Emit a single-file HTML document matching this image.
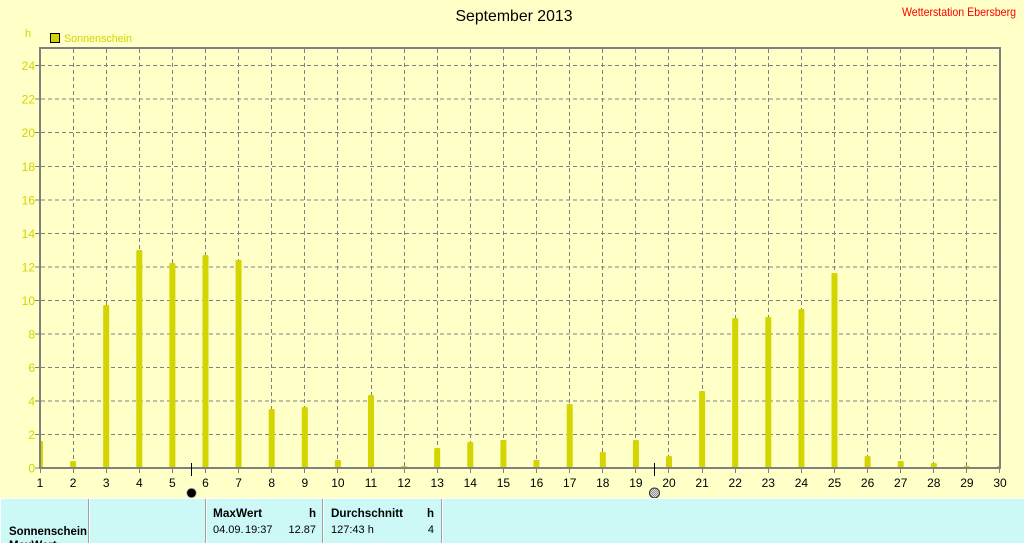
<!DOCTYPE html>
<html>
<head>
<meta charset="utf-8">
<style>
html,body{margin:0;padding:0;background:#ffffc8;}
svg{display:block;}
text{font-family:"Liberation Sans",Arial,sans-serif;}
</style>
</head>
<body>
<svg width="1024" height="543" viewBox="0 0 1024 543" xmlns="http://www.w3.org/2000/svg">
<defs>
<clipPath id="plot"><rect x="41" y="49" width="958" height="420"/></clipPath>
<pattern id="hatch" width="2" height="2" patternUnits="userSpaceOnUse">
<rect width="2" height="2" fill="#e0e0e0"/><rect width="1" height="1" fill="#909090"/><rect x="1" y="1" width="1" height="1" fill="#909090"/>
</pattern>
</defs>
<rect x="0" y="0" width="1024" height="543" fill="#ffffc8"/>

<!-- title -->
<text x="514" y="21" font-size="16" text-anchor="middle" fill="#000" textLength="117" lengthAdjust="spacingAndGlyphs">September 2013</text>
<text x="1016" y="16" font-size="12" text-anchor="end" fill="#ff0000" textLength="114" lengthAdjust="spacingAndGlyphs">Wetterstation Ebersberg</text>

<!-- legend -->
<text x="25" y="37" font-size="11" fill="#d4d400">h</text>
<rect x="50.5" y="33.5" width="9" height="9" fill="#d4d400" stroke="#000" stroke-width="1"/>
<text x="64" y="42" font-size="11" fill="#d4d400" textLength="68" lengthAdjust="spacingAndGlyphs">Sonnenschein</text>

<!-- grid -->
<g stroke="#808080" stroke-width="1" stroke-dasharray="4,3" fill="none">
<line x1="41" x2="999" y1="434.5" y2="434.5"/>
<line x1="41" x2="999" y1="401" y2="401"/>
<line x1="41" x2="999" y1="367.5" y2="367.5"/>
<line x1="41" x2="999" y1="334" y2="334"/>
<line x1="41" x2="999" y1="300.5" y2="300.5"/>
<line x1="41" x2="999" y1="267" y2="267"/>
<line x1="41" x2="999" y1="233.5" y2="233.5"/>
<line x1="41" x2="999" y1="200" y2="200"/>
<line x1="41" x2="999" y1="166.5" y2="166.5"/>
<line x1="41" x2="999" y1="132.5" y2="132.5"/>
<line x1="41" x2="999" y1="99" y2="99"/>
<line x1="41" x2="999" y1="65.5" y2="65.5"/>
<line y1="49" y2="467" x1="73.5" x2="73.5"/>
<line y1="49" y2="467" x1="106.5" x2="106.5"/>
<line y1="49" y2="467" x1="139.5" x2="139.5"/>
<line y1="49" y2="467" x1="172.5" x2="172.5"/>
<line y1="49" y2="467" x1="205.5" x2="205.5"/>
<line y1="49" y2="467" x1="238.5" x2="238.5"/>
<line y1="49" y2="467" x1="271.5" x2="271.5"/>
<line y1="49" y2="467" x1="304.5" x2="304.5"/>
<line y1="49" y2="467" x1="337.5" x2="337.5"/>
<line y1="49" y2="467" x1="371.5" x2="371.5"/>
<line y1="49" y2="467" x1="404.5" x2="404.5"/>
<line y1="49" y2="467" x1="437.5" x2="437.5"/>
<line y1="49" y2="467" x1="470.5" x2="470.5"/>
<line y1="49" y2="467" x1="503.5" x2="503.5"/>
<line y1="49" y2="467" x1="536.5" x2="536.5"/>
<line y1="49" y2="467" x1="569.5" x2="569.5"/>
<line y1="49" y2="467" x1="602.5" x2="602.5"/>
<line y1="49" y2="467" x1="635.5" x2="635.5"/>
<line y1="49" y2="467" x1="668.5" x2="668.5"/>
<line y1="49" y2="467" x1="702.5" x2="702.5"/>
<line y1="49" y2="467" x1="735.5" x2="735.5"/>
<line y1="49" y2="467" x1="768.5" x2="768.5"/>
<line y1="49" y2="467" x1="801.5" x2="801.5"/>
<line y1="49" y2="467" x1="834.5" x2="834.5"/>
<line y1="49" y2="467" x1="867.5" x2="867.5"/>
<line y1="49" y2="467" x1="900.5" x2="900.5"/>
<line y1="49" y2="467" x1="933.5" x2="933.5"/>
<line y1="49" y2="467" x1="966.5" x2="966.5"/>
</g>

<!-- bars -->
<g fill="#d4d400" clip-path="url(#plot)">
<rect x="37" y="441" width="6" height="29" rx="1.2"/>
<rect x="70.1" y="461" width="6" height="9" rx="1.2"/>
<rect x="103.2" y="305" width="6" height="165" rx="1.2"/>
<rect x="136.3" y="250" width="6" height="220" rx="1.2"/>
<rect x="169.4" y="263" width="6" height="207" rx="1.2"/>
<rect x="202.5" y="255" width="6" height="215" rx="1.2"/>
<rect x="235.6" y="260" width="6" height="210" rx="1.2"/>
<rect x="268.7" y="409" width="6" height="61" rx="1.2"/>
<rect x="301.8" y="407" width="6" height="63" rx="1.2"/>
<rect x="334.9" y="460" width="6" height="10" rx="1.2"/>
<rect x="368" y="395" width="6" height="75" rx="1.2"/>
<rect x="401.1" y="466" width="6" height="4" rx="1"/>
<rect x="434.2" y="448" width="6" height="22" rx="1.2"/>
<rect x="467.3" y="442" width="6" height="28" rx="1.2"/>
<rect x="500.4" y="440" width="6" height="30" rx="1.2"/>
<rect x="533.5" y="460" width="6" height="10" rx="1.2"/>
<rect x="566.7" y="404" width="6" height="66" rx="1.2"/>
<rect x="599.8" y="452" width="6" height="18" rx="1.2"/>
<rect x="632.9" y="440" width="6" height="30" rx="1.2"/>
<rect x="666" y="456" width="6" height="14" rx="1.2"/>
<rect x="699.1" y="391" width="6" height="79" rx="1.2"/>
<rect x="732.2" y="318" width="6" height="152" rx="1.2"/>
<rect x="765.3" y="317" width="6" height="153" rx="1.2"/>
<rect x="798.4" y="309" width="6" height="161" rx="1.2"/>
<rect x="831.5" y="273" width="6" height="197" rx="1.2"/>
<rect x="864.6" y="456" width="6" height="14" rx="1.2"/>
<rect x="897.7" y="461" width="6" height="9" rx="1.2"/>
<rect x="930.8" y="463" width="6" height="7" rx="1.2"/>
<rect x="963.9" y="466" width="6" height="4" rx="1"/>
<rect x="997" y="466" width="6" height="4" rx="1"/>
</g>

<!-- frame -->
<rect x="40" y="48" width="960" height="420" fill="none" stroke="#808080" stroke-width="2"/>

<!-- y ticks -->
<g stroke="#808080" stroke-width="1">
<line x1="35" x2="40" y1="468" y2="468"/>
<line x1="35" x2="40" y1="434.5" y2="434.5"/>
<line x1="35" x2="40" y1="401" y2="401"/>
<line x1="35" x2="40" y1="367.5" y2="367.5"/>
<line x1="35" x2="40" y1="334" y2="334"/>
<line x1="35" x2="40" y1="300.5" y2="300.5"/>
<line x1="35" x2="40" y1="267" y2="267"/>
<line x1="35" x2="40" y1="233.5" y2="233.5"/>
<line x1="35" x2="40" y1="200" y2="200"/>
<line x1="35" x2="40" y1="166.5" y2="166.5"/>
<line x1="35" x2="40" y1="132.5" y2="132.5"/>
<line x1="35" x2="40" y1="99" y2="99"/>
<line x1="35" x2="40" y1="65.5" y2="65.5"/>
</g>
<g font-size="12" fill="#d4d400" text-anchor="end">
<text x="35" y="472.5">0</text>
<text x="35" y="439">2</text>
<text x="35" y="405.5">4</text>
<text x="35" y="372">6</text>
<text x="35" y="338.5">8</text>
<text x="35" y="305">10</text>
<text x="35" y="271.5">12</text>
<text x="35" y="238">14</text>
<text x="35" y="204.5">16</text>
<text x="35" y="171">18</text>
<text x="35" y="137">20</text>
<text x="35" y="103.5">22</text>
<text x="35" y="70">24</text>
</g>

<!-- x ticks -->
<g stroke="#808080" stroke-width="1">
<line x1="40.5" x2="40.5" y1="469" y2="473"/>
<line x1="73.5" x2="73.5" y1="469" y2="473"/>
<line x1="106.5" x2="106.5" y1="469" y2="473"/>
<line x1="139.5" x2="139.5" y1="469" y2="473"/>
<line x1="172.5" x2="172.5" y1="469" y2="473"/>
<line x1="205.5" x2="205.5" y1="469" y2="473"/>
<line x1="238.5" x2="238.5" y1="469" y2="473"/>
<line x1="271.5" x2="271.5" y1="469" y2="473"/>
<line x1="304.5" x2="304.5" y1="469" y2="473"/>
<line x1="337.5" x2="337.5" y1="469" y2="473"/>
<line x1="371.5" x2="371.5" y1="469" y2="473"/>
<line x1="404.5" x2="404.5" y1="469" y2="473"/>
<line x1="437.5" x2="437.5" y1="469" y2="473"/>
<line x1="470.5" x2="470.5" y1="469" y2="473"/>
<line x1="503.5" x2="503.5" y1="469" y2="473"/>
<line x1="536.5" x2="536.5" y1="469" y2="473"/>
<line x1="569.5" x2="569.5" y1="469" y2="473"/>
<line x1="602.5" x2="602.5" y1="469" y2="473"/>
<line x1="635.5" x2="635.5" y1="469" y2="473"/>
<line x1="668.5" x2="668.5" y1="469" y2="473"/>
<line x1="702.5" x2="702.5" y1="469" y2="473"/>
<line x1="735.5" x2="735.5" y1="469" y2="473"/>
<line x1="768.5" x2="768.5" y1="469" y2="473"/>
<line x1="801.5" x2="801.5" y1="469" y2="473"/>
<line x1="834.5" x2="834.5" y1="469" y2="473"/>
<line x1="867.5" x2="867.5" y1="469" y2="473"/>
<line x1="900.5" x2="900.5" y1="469" y2="473"/>
<line x1="933.5" x2="933.5" y1="469" y2="473"/>
<line x1="966.5" x2="966.5" y1="469" y2="473"/>
<line x1="999.5" x2="999.5" y1="469" y2="473"/>
</g>
<g font-size="12" fill="#000" text-anchor="middle">
<text x="40" y="487">1</text>
<text x="73.1" y="487">2</text>
<text x="106.2" y="487">3</text>
<text x="139.3" y="487">4</text>
<text x="172.4" y="487">5</text>
<text x="205.5" y="487">6</text>
<text x="238.6" y="487">7</text>
<text x="271.7" y="487">8</text>
<text x="304.8" y="487">9</text>
<text x="337.9" y="487">10</text>
<text x="371" y="487">11</text>
<text x="404.1" y="487">12</text>
<text x="437.2" y="487">13</text>
<text x="470.3" y="487">14</text>
<text x="503.4" y="487">15</text>
<text x="536.6" y="487">16</text>
<text x="569.7" y="487">17</text>
<text x="602.8" y="487">18</text>
<text x="635.9" y="487">19</text>
<text x="669" y="487">20</text>
<text x="702.1" y="487">21</text>
<text x="735.2" y="487">22</text>
<text x="768.3" y="487">23</text>
<text x="801.4" y="487">24</text>
<text x="834.5" y="487">25</text>
<text x="867.6" y="487">26</text>
<text x="900.7" y="487">27</text>
<text x="933.8" y="487">28</text>
<text x="966.9" y="487">29</text>
<text x="1000" y="487">30</text>
</g>

<!-- moon phases -->
<line x1="191.5" x2="191.5" y1="463" y2="476" stroke="#000" stroke-width="1"/>
<circle cx="191.5" cy="493" r="4.8" fill="#000" stroke="#b0b0b0" stroke-width="0.8"/>
<line x1="654.5" x2="654.5" y1="463" y2="476" stroke="#000" stroke-width="1"/>
<circle cx="654.5" cy="493" r="5" fill="url(#hatch)" stroke="#303030" stroke-width="1"/>

<!-- table -->
<rect x="0" y="498" width="1024" height="45" fill="#ccf9f6"/>
<rect x="0" y="498" width="1024" height="1" fill="#ffffff"/>
<rect x="0" y="498" width="1" height="45" fill="#ffffff"/>
<g fill="#a0a0a0">
<rect x="88" y="499" width="1" height="44"/>
<rect x="205" y="499" width="1" height="44"/>
<rect x="322" y="499" width="1" height="44"/>
<rect x="441" y="499" width="1" height="44"/>
</g>
<g fill="#ffffff">
<rect x="89" y="499" width="1" height="44"/>
<rect x="206" y="499" width="1" height="44"/>
<rect x="323" y="499" width="1" height="44"/>
<rect x="442" y="499" width="1" height="44"/>
</g>
<g font-size="11" fill="#000">
<text x="9" y="535" font-weight="bold" font-size="11.5" textLength="78" lengthAdjust="spacingAndGlyphs">Sonnenschein</text>
<text x="9" y="549" font-weight="bold" font-size="11.5">MaxWert</text>
<text x="213" y="517" font-weight="bold" font-size="11.5" textLength="49" lengthAdjust="spacingAndGlyphs">MaxWert</text>
<text x="316" y="517" font-weight="bold" font-size="11.5" text-anchor="end">h</text>
<text x="213" y="533">04.09.</text>
<text x="245" y="533">19:37</text>
<text x="316" y="533" text-anchor="end">12.87</text>
<text x="331" y="517" font-weight="bold" font-size="11.5" textLength="72" lengthAdjust="spacingAndGlyphs">Durchschnitt</text>
<text x="434" y="517" font-weight="bold" font-size="11.5" text-anchor="end">h</text>
<text x="331" y="533">127:43 h</text>
<text x="434" y="533" text-anchor="end">4</text>
</g>
</svg>
</body>
</html>
